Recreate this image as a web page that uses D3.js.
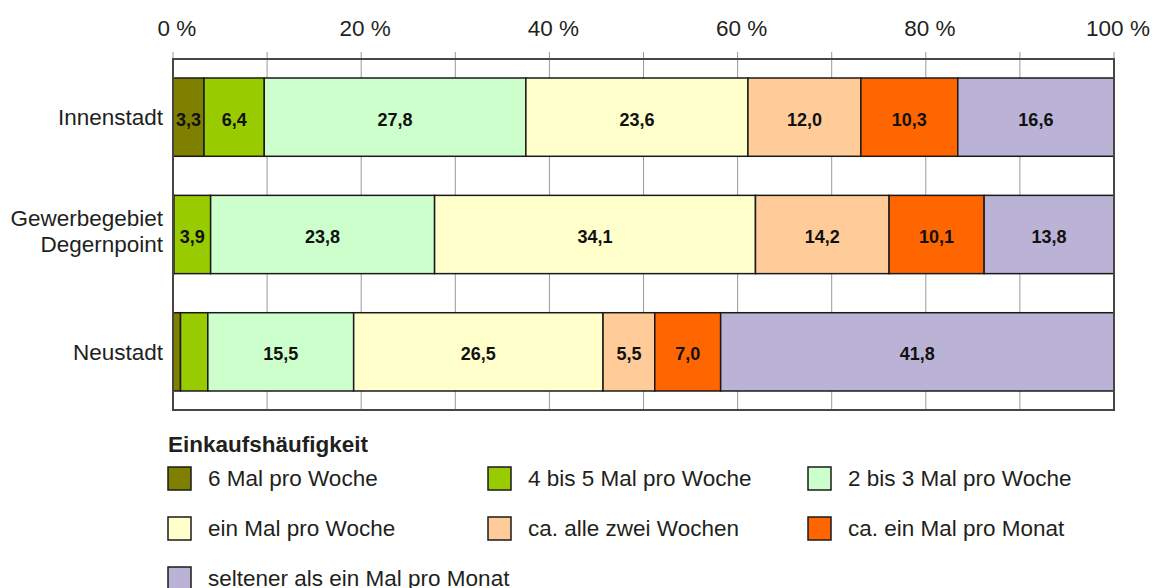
<!DOCTYPE html>
<html>
<head>
<meta charset="utf-8">
<script src="https://cdn.jsdelivr.net/npm/d3@7.9.0/dist/d3.min.js"></script>
<style>
  body { margin: 0; background: #fff; }
  svg { font-family: "Liberation Sans", Arial, sans-serif; }
</style>
</head>
<body>
<svg id="chart" width="1156" height="588"></svg>
<script>
const regions = ['Innenstadt', 'Gewerbegebiet\nDegernpoint', 'Neustadt'];
const categories = ['6 Mal pro Woche', '4 bis 5 Mal pro Woche', '2 bis 3 Mal pro Woche',
  'ein Mal pro Woche', 'ca. alle zwei Wochen', 'ca. ein Mal pro Monat', 'seltener als ein Mal pro Monat'];
const colorList = ['#808000', '#99cc00', '#ccffcc', '#ffffcc', '#ffcc99', '#ff6600', '#bab3d6'];

const innenstadt = [3.3, 6.4, 27.8, 23.6, 12.0, 10.3, 16.6];
const gewerbegebiet = [0.1, 3.9, 23.8, 34.1, 14.2, 10.1, 13.8];
const neustadt = [0.8, 2.9, 15.5, 26.5, 5.5, 7.0, 41.8];
const ticks = [0, 20, 40, 60, 80, 100];
const gridTicks = [0, 10, 20, 30, 40, 50, 60, 70, 80, 90, 100];

const rows = [innenstadt, gewerbegebiet, neustadt];
const textColor = '#231f20';

let svg = d3.select('#chart');

let x = d3.scaleLinear().domain([0, 100]).range([173, 1114]);
let y = d3.scaleBand().domain(regions).range([59, 410]).paddingInner(0.333).paddingOuter(0.162);
let color = d3.scaleOrdinal().domain(categories).range(colorList);

// gridlines (with small ticks sticking out above the frame)
svg.append('g')
  .selectAll('line')
  .data(gridTicks)
  .join('line')
  .attr('x1', d => x(d)).attr('x2', d => x(d))
  .attr('y1', 52).attr('y2', 410)
  .attr('stroke', '#999')
  .attr('stroke-width', 1);

// tick labels on top
svg.append('g')
  .selectAll('text')
  .data(ticks)
  .join('text')
  .attr('x', d => x(d) + 4)
  .attr('y', 36)
  .attr('text-anchor', 'middle')
  .attr('font-size', 22.5)
  .attr('fill', textColor)
  .text(d => `${d} %`);

// stacked bars
rows.forEach((vals, i) => {
  let region = regions[i];
  let stacked = [];
  let acc = 0;
  vals.forEach((v, j) => {
    stacked.push({ cat: categories[j], v: v, x0: acc, x1: acc + v });
    acc += v;
  });

  let g = svg.append('g');
  g.selectAll('rect')
    .data(stacked)
    .join('rect')
    .attr('x', d => x(d.x0))
    .attr('y', y(region))
    .attr('width', d => x(d.x1) - x(d.x0))
    .attr('height', y.bandwidth())
    .attr('fill', d => color(d.cat))
    .attr('stroke', '#1a1a1a')
    .attr('stroke-width', 1.5);

  g.selectAll('text')
    .data(stacked.filter(d => d.v >= 3))
    .join('text')
    .attr('x', d => (x(d.x0) + x(d.x1)) / 2)
    .attr('y', y(region) + y.bandwidth() / 2)
    .attr('dy', '0.48em')
    .attr('text-anchor', 'middle')
    .attr('font-size', 18)
    .attr('font-weight', 'bold')
    .attr('fill', '#111')
    .text(d => d.v.toFixed(1).replace('.', ','));

  // row label
  let lines = region.split('\n');
  let cy = y(region) + y.bandwidth() / 2;
  let lab = svg.append('text')
    .attr('text-anchor', 'end')
    .attr('font-size', 22.5)
    .attr('fill', textColor);
  lines.forEach((l, k) => {
    lab.append('tspan')
      .attr('x', 163)
      .attr('y', cy + 8 + (k - (lines.length - 1) / 2) * 26 - (lines.length > 1 ? 4 : 0))
      .text(l);
  });
});

// plot frame
svg.append('rect')
  .attr('x', x(0)).attr('y', 59)
  .attr('width', x(100) - x(0)).attr('height', 410 - 59)
  .attr('fill', 'none')
  .attr('stroke', '#4a4545')
  .attr('stroke-width', 2);

// legend
svg.append('text')
  .attr('x', 168).attr('y', 452)
  .attr('font-size', 22.5)
  .attr('font-weight', 'bold')
  .attr('fill', textColor)
  .text('Einkaufshäufigkeit');

let legend = svg.append('g')
  .selectAll('g')
  .data(categories)
  .join('g')
  .attr('transform', (d, i) => `translate(${168 + (i % 3) * 320},${467 + Math.floor(i / 3) * 50})`);

legend.append('rect')
  .attr('width', 23).attr('height', 23)
  .attr('fill', d => color(d))
  .attr('stroke', '#1a1a1a')
  .attr('stroke-width', 1.5);

legend.append('text')
  .attr('x', 40).attr('y', 18.5)
  .attr('font-size', 22.5)
  .attr('fill', textColor)
  .text(d => d);
</script>
</body>
</html>
